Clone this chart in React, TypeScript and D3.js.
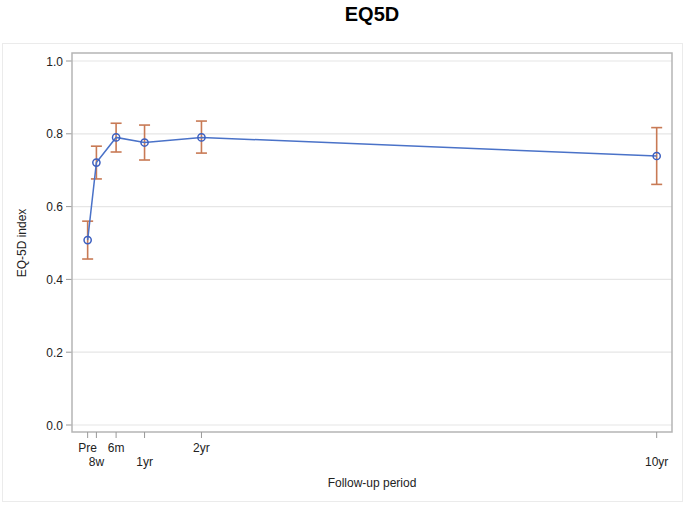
import React from 'react';
import {scaleLinear, line} from 'd3';

// follow-up time in weeks, labels and EQ-5D means with CI
const periods = ['Pre', '8w', '6m', '1yr', '2yr', '10yr'];
const weeks = [0, 8, 26, 52, 104, 520];
const means = [0.508, 0.721, 0.79, 0.776, 0.79, 0.739];
const lower = [0.456, 0.676, 0.75, 0.728, 0.747, 0.661];
const upper = [0.56, 0.766, 0.829, 0.824, 0.835, 0.817];
const yTicks = [0, 0.2, 0.4, 0.6, 0.8, 1.0];

export default function App() {
  const width = 688;
  const height = 506;
  const left = 72;
  const right = 672;
  const top = 53;
  const bottom = 432;

  const x = scaleLinear().domain([-14.3, 534]).range([left, right]);
  const y = scaleLinear().domain([0, 1]).range([425, 61]);

  const pts = weeks.map((w, i) => [w, means[i]] as [number, number]);
  const path = line<[number, number]>()
    .x(d => x(d[0]))
    .y(d => y(d[1]))(pts);

  const font = 'Liberation Sans, Arial, sans-serif';

  return (
    <div style={{position: 'absolute', left: 0, top: 0}}>
      <svg width={width} height={height} style={{display: 'block'}} fontFamily={font}>
        <rect width={width} height={height} fill="#fff" />
        <text x={372} y={21} textAnchor="middle" fontSize={20} fontWeight="bold" fill="#000">
          EQ5D
        </text>
        <rect x={2.5} y={43.5} width={680} height={458} fill="none" stroke="#ebebeb" />
        {yTicks.map(t => (
          <g key={t}>
            <line x1={left} x2={right} y1={y(t)} y2={y(t)} stroke="#e6e6e6" strokeWidth={1.2} />
            <line x1={left - 6} x2={left} y1={y(t)} y2={y(t)} stroke="#999" />
            <text x={left - 9} y={y(t) + 4.5} textAnchor="end" fontSize={12} fill="#222">
              {t.toFixed(1)}
            </text>
          </g>
        ))}
        <rect x={left} y={top} width={right - left} height={bottom - top} fill="none" stroke="#b5b5b5" strokeWidth={1.5} />
        {weeks.map((w, i) => (
          <g key={periods[i]}>
            <line x1={x(w)} x2={x(w)} y1={bottom} y2={bottom + 6} stroke="#999" />
            <text x={x(w)} y={i % 2 === 0 ? 452 : 466} textAnchor="middle" fontSize={12} fill="#222">
              {periods[i]}
            </text>
          </g>
        ))}
        <text x={372} y={487} textAnchor="middle" fontSize={12} fill="#222">
          Follow-up period
        </text>
        <text transform={`translate(26,243) rotate(-90)`} textAnchor="middle" fontSize={12} fill="#222">
          EQ-5D index
        </text>
        {weeks.map((w, i) => (
          <g key={'e' + i} stroke="#c87a55" strokeWidth={1.6}>
            <line x1={x(w)} x2={x(w)} y1={y(lower[i])} y2={y(upper[i])} />
            <line x1={x(w) - 5.5} x2={x(w) + 5.5} y1={y(lower[i])} y2={y(lower[i])} />
            <line x1={x(w) - 5.5} x2={x(w) + 5.5} y1={y(upper[i])} y2={y(upper[i])} />
          </g>
        ))}
        <path d={path || ''} fill="none" stroke="#4a72c8" strokeWidth={1.5} />
        {weeks.map((w, i) => (
          <circle key={'c' + i} cx={x(w)} cy={y(means[i])} r={3.6} fill="none" stroke="#3c5fc0" strokeWidth={1.5} />
        ))}
      </svg>
    </div>
  );
}
